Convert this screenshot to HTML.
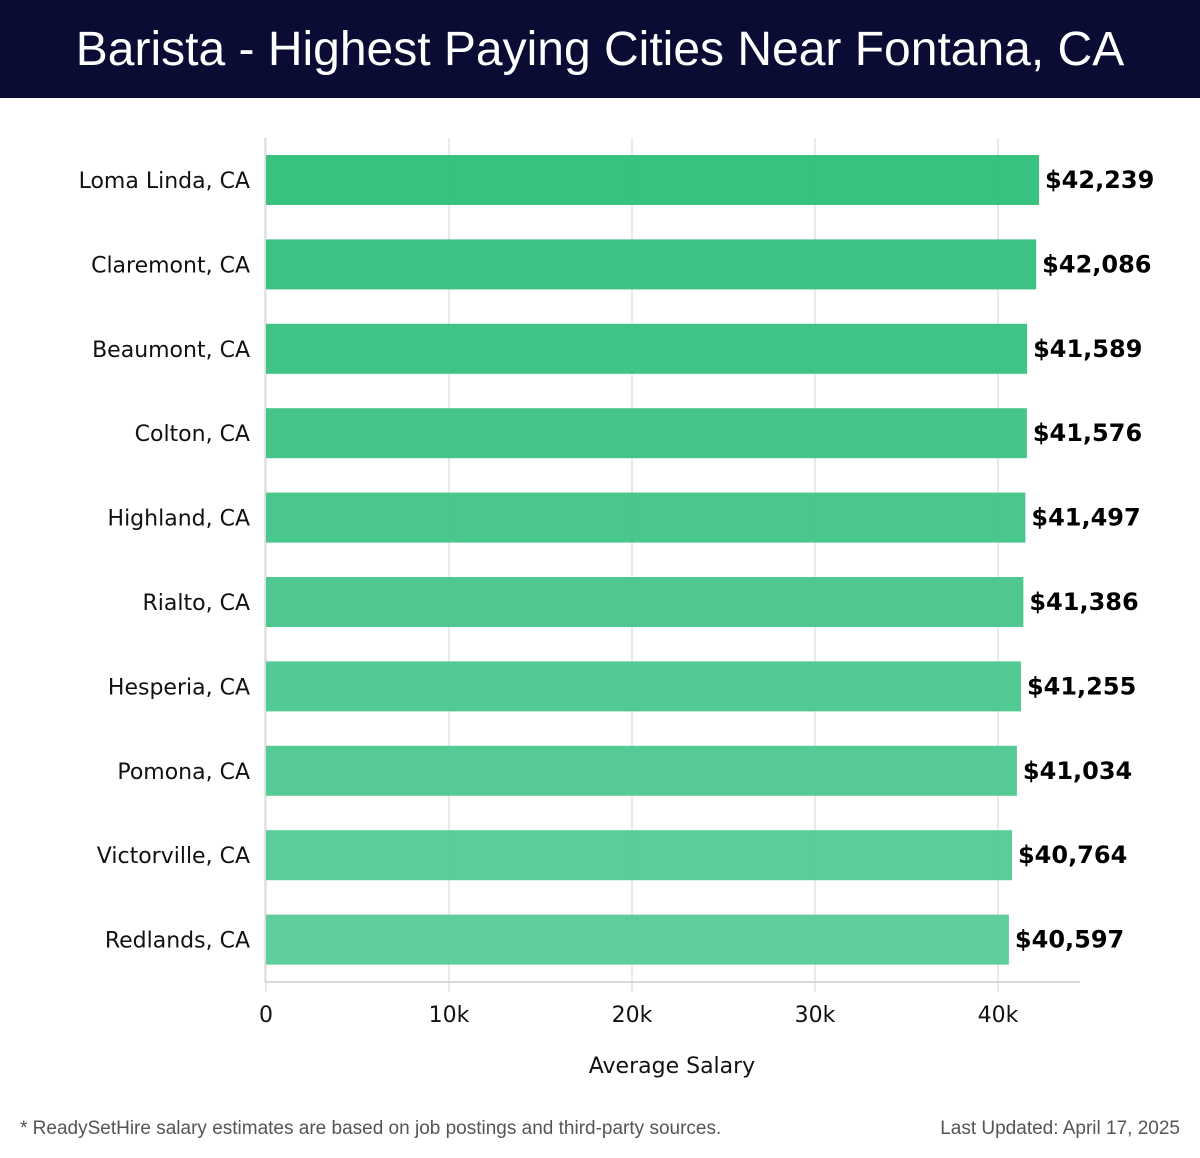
<!DOCTYPE html>
<html><head><meta charset="utf-8"><style>
body{margin:0;width:1200px;height:1158px;background:#fff;overflow:hidden;font-family:"DejaVu Sans","Liberation Sans",sans-serif}
#hdr{position:absolute;left:0;top:0;width:1200px;height:98px;background:#0b0c33;color:#fff;font-family:"Liberation Sans",sans-serif;font-size:48px;text-align:center;line-height:100px}
.foot{position:absolute;top:1118px;font-family:"Liberation Sans",sans-serif;font-size:19px;color:#555}
</style></head><body>
<div id="hdr">Barista - Highest Paying Cities Near Fontana, CA</div>
<svg id="chart" width="1200" height="1158" style="position:absolute;left:0;top:0"></svg>
<div class="foot" style="left:20px">* ReadySetHire salary estimates are based on job postings and third-party sources.</div>
<div class="foot" style="right:20px">Last Updated: April 17, 2025</div>
<script>
const cities=["Loma Linda, CA","Claremont, CA","Beaumont, CA","Colton, CA","Highland, CA","Rialto, CA","Hesperia, CA","Pomona, CA","Victorville, CA","Redlands, CA"];
const salaries=[42239,42086,41589,41576,41497,41386,41255,41034,40764,40597];
const ticks=[0,10000,20000,30000,40000];
const tickLabels=["0","10k","20k","30k","40k"];
const svg=document.getElementById('chart');
const NS="http://www.w3.org/2000/svg";
const x0=266,pxPer=183/10000,top0=138,step=84.4,bh=50;
const xs=v=>x0+v*pxPer;
const yc=i=>180+i*step;
function mk(t,a){const e=document.createElementNS(NS,t);for(const k in a)e.setAttribute(k,a[k]);svg.appendChild(e);return e;}
ticks.forEach((t,i)=>{
 const g=mk('line',{x1:xs(t),x2:xs(t),y1:top0,y2:992,stroke:'#e3e3e3','stroke-width':1.5});
 
 
 const l=mk('text',{x:xs(t),y:1022,'text-anchor':'middle','font-size':22,fill:'#111'});
 l.textContent=tickLabels[i];
 
 
});
const ax=mk('line',{x1:265,x2:1080,y1:982,y2:982,stroke:'#ccc','stroke-width':1.5});


const ay=mk('line',{x1:265,x2:265,y1:top0,y2:982,stroke:'#ddd','stroke-width':1.5});


function col(i){const a=[45,190,120],b=[87,203,151],f=i/(cities.length-1);return 'rgb('+a.map((c,k)=>Math.round(c+(b[k]-c)*f)).join(',')+')';}
cities.forEach((c,i)=>{
 const v=salaries[i];
 const r=mk('rect',{x:x0,y:yc(i)-bh/2,width:xs(v)-x0,height:bh,fill:col(i),'fill-opacity':0.95});
 
 
 const l=mk('text',{x:250,y:yc(i)+8,'text-anchor':'end','font-size':22,fill:'#111'});
 l.textContent=c;
 
 
 const vl=mk('text',{x:xs(v)+6,y:yc(i)+8,'font-size':24,'font-weight':'bold',fill:'#000'});
 vl.textContent='$'+v.toLocaleString('en-US');
 
 
});
const xt=mk('text',{x:672,y:1073,'text-anchor':'middle','font-size':22,fill:'#111'});
xt.textContent='Average Salary';


</script>
</body></html>
